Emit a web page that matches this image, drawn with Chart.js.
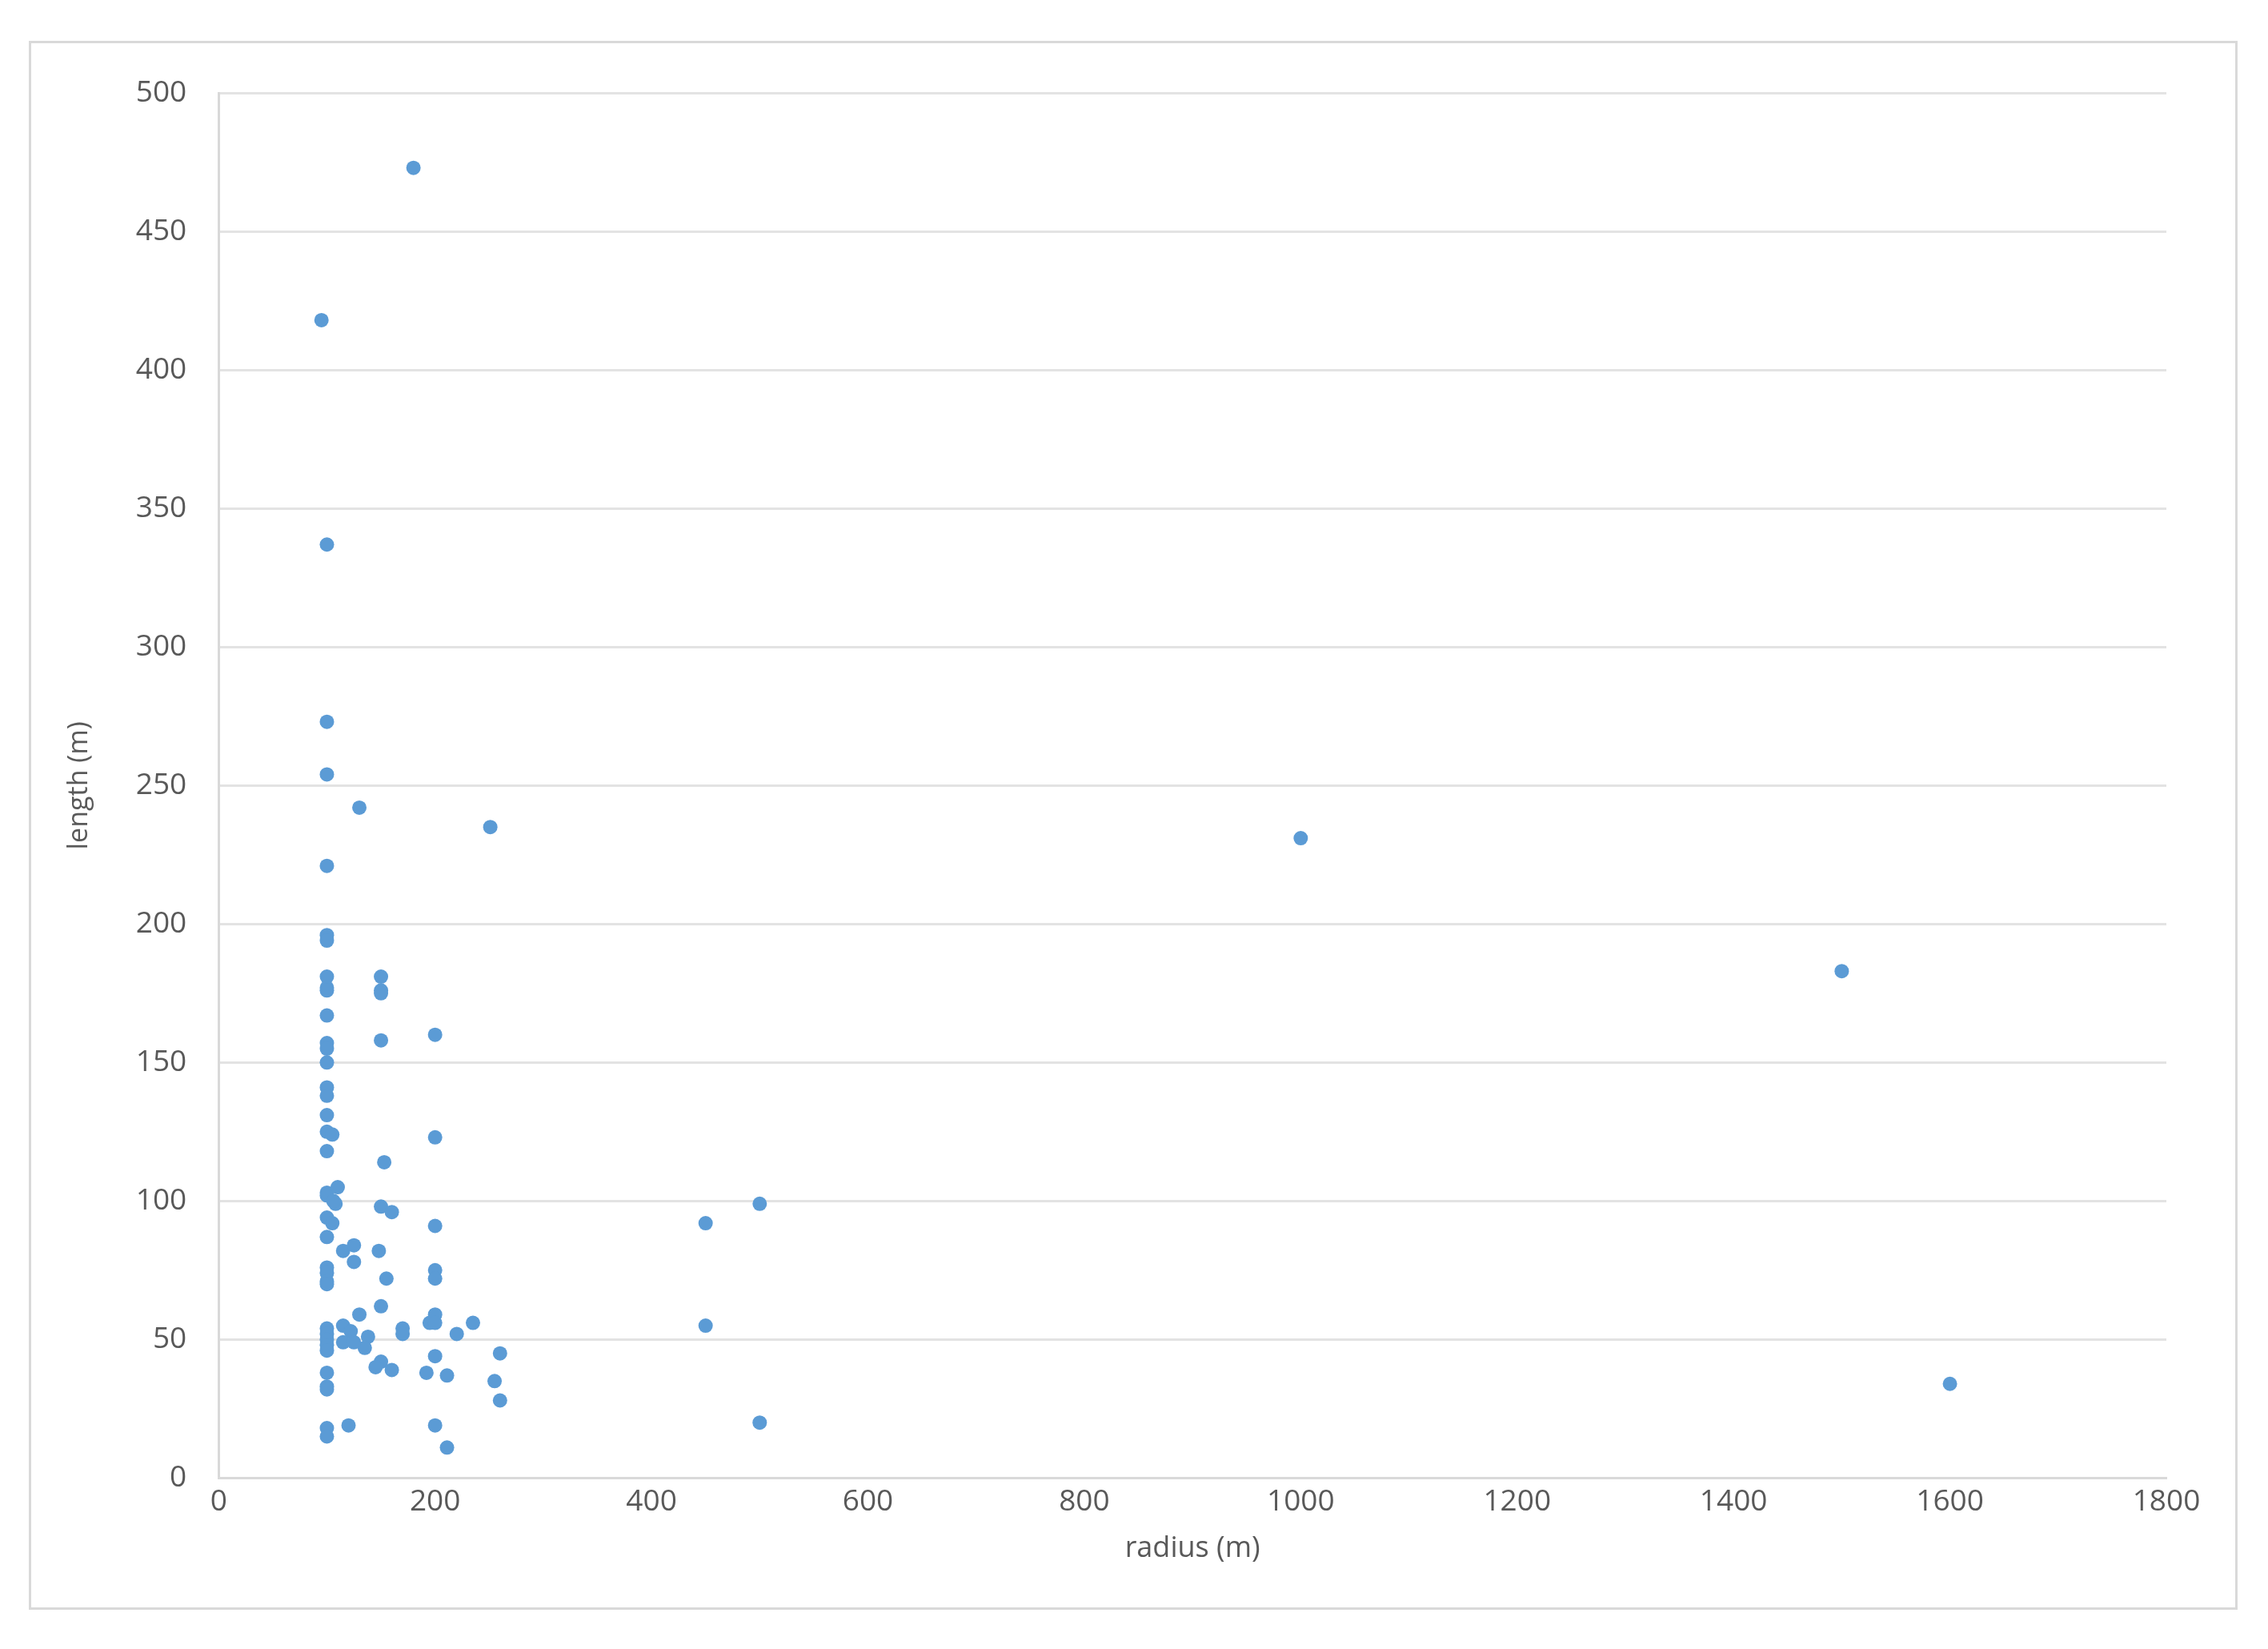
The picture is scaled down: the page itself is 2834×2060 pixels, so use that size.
<!DOCTYPE html>
<html>
<head>
<meta charset="utf-8">
<script src="https://cdn.jsdelivr.net/npm/chart.js@4"></script>
<style>
  body { margin: 0; background: #fff; }
  #wrap { position: absolute; left: 36px; top: 51px; width: 2760px; height: 1960px; border: 3px solid #d9d9d9; box-sizing: border-box; }
</style>
</head>
<body>
<div id="wrap"><canvas id="c"></canvas></div>
<script>
const radius = [180, 95, 100, 100, 100, 130, 251, 100, 1000, 1500, 1600,
  100, 100, 100, 100, 100, 100, 100, 100, 100, 100, 100, 100, 100, 100, 100, 100, 100, 100, 100, 100, 100, 100, 100, 100, 100, 100, 100, 100, 100, 100, 100, 100,
  105, 150, 150, 150, 150, 200, 200, 153, 110, 108, 106, 150, 160, 105, 200, 115, 125, 148, 125, 155, 200, 200, 130, 150, 200, 195, 200, 235, 170, 170, 220, 115, 122, 138, 115, 135, 125, 260, 200, 150, 145, 160, 192, 211, 255, 260, 120, 200, 211,
  450, 500, 450, 500];
const length = [473, 418, 337, 273, 254, 242, 235, 221, 231, 183, 34,
  196, 194, 181, 177, 176, 167, 157, 155, 150, 141, 138, 131, 125, 118, 103, 102, 94, 87, 76, 74, 71, 70, 54, 52, 50, 48, 46, 38, 33, 32, 18, 15,
  124, 181, 176, 175, 158, 160, 123, 114, 105, 99, 100, 98, 96, 92, 91, 82, 84, 82, 78, 72, 75, 72, 59, 62, 59, 56, 56, 56, 54, 52, 52, 55, 53, 51, 49, 47, 49, 45, 44, 42, 40, 39, 38, 37, 35, 28, 19, 19, 11,
  92, 99, 55, 20];
const xTicks = { min: 0, max: 1800, step: 200 };
const yTicks = { min: 0, max: 500, step: 50 };

const points = radius.map((r, i) => ({ x: r, y: length[i] }));
const tickFont = { family: 'Open Sans', size: 37 };
const grey = '#595959';

new Chart(document.getElementById('c'), {
  type: 'scatter',
  data: { datasets: [{ data: points, backgroundColor: '#5B9BD5', borderWidth: 0, pointRadius: 9 }] },
  options: {
    responsive: true, maintainAspectRatio: false, animation: false,
    layout: { padding: { left: 36, right: 86, top: 6, bottom: 48 } },
    plugins: { legend: { display: false }, tooltip: { enabled: false } },
    scales: {
      x: {
        min: xTicks.min, max: xTicks.max,
        ticks: { stepSize: xTicks.step, color: grey, font: tickFont, padding: 8, callback: v => String(v) },
        grid: { display: false, drawTicks: false },
        border: { color: '#d9d9d9', width: 3 },
        title: { display: true, text: 'radius (m)', color: grey, font: { family: 'Open Sans', size: 36 }, padding: { top: 6 } }
      },
      y: {
        min: yTicks.min, max: yTicks.max,
        ticks: { stepSize: yTicks.step, color: grey, font: tickFont, padding: 40, callback: v => String(v) },
        grid: { color: '#e3e3e3', lineWidth: 3, drawTicks: false },
        border: { color: '#d9d9d9', width: 3 },
        title: { display: true, text: 'length (m)', color: grey, font: { family: 'Open Sans', size: 34 }, padding: { bottom: 10 } }
      }
    }
  }
});
</script>
</body>
</html>
